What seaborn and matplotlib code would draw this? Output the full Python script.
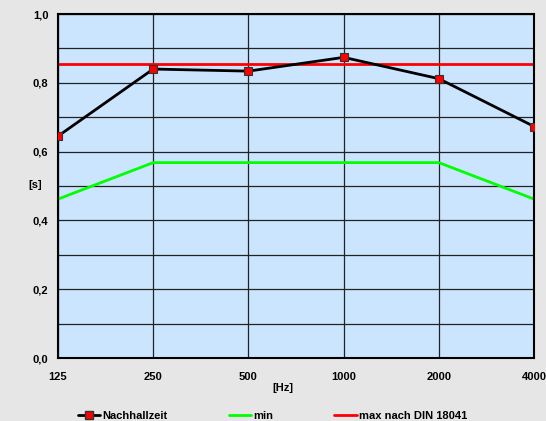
import pandas as pd
import matplotlib
matplotlib.use("Agg")
import matplotlib.pyplot as plt
import seaborn as sns
from matplotlib.lines import Line2D

freqs = ["125", "250", "500", "1000", "2000", "4000"]
nachhallzeit = [0.645, 0.840, 0.834, 0.874, 0.812, 0.673]
min_vals = [0.462, 0.568, 0.568, 0.568, 0.568, 0.462]
max_vals = [0.854, 0.854, 0.854, 0.854, 0.854, 0.854]

df = pd.DataFrame({"Hz": freqs, "Nachhallzeit": nachhallzeit,
                   "min": min_vals, "max": max_vals})

sns.set_style("white")
plt.rcParams["font.family"] = ["Liberation Sans", "DejaVu Sans"]
plt.rcParams["font.weight"] = "bold"
plt.rcParams["text.color"] = "black"
plt.rcParams["axes.labelcolor"] = "black"
plt.rcParams["xtick.color"] = "black"
plt.rcParams["ytick.color"] = "black"

fig = plt.figure(figsize=(5.46, 4.21), dpi=100, facecolor="#e6e6e6")
ax = fig.add_axes([0.1062, 0.1496, 0.872, 0.8171])
ax.set_facecolor("#cce5ff")

sns.lineplot(data=df, x="Hz", y="min", color="#00ff00", lw=2, ax=ax, sort=False)
sns.lineplot(data=df, x="Hz", y="max", color="#ff0000", lw=2, ax=ax, sort=False)
sns.lineplot(data=df, x="Hz", y="Nachhallzeit", color="black", lw=2, ax=ax, sort=False,
             marker="s", markersize=5.5, markerfacecolor="#ff0000",
             markeredgecolor="#333333", markeredgewidth=0.8, zorder=5)

ax.set_xlim(0, len(freqs) - 1)
ax.set_ylim(0, 1.0)
ax.set_yticks([i / 10 for i in range(11)])
ax.set_yticklabels([f"{i/10:.1f}".replace(".", ",") if i % 2 == 0 else "" for i in range(11)])
ax.grid(True, color="#222222", lw=0.9)
ax.tick_params(length=0, labelsize=8, pad=7)
for lab in ax.get_xticklabels() + ax.get_yticklabels():
    lab.set_fontweight("bold")
ax.tick_params(axis="x", pad=10)

for s in ax.spines.values():
    s.set_color("black")
    s.set_linewidth(1.5)

ax.set_xlabel("[Hz]", fontsize=8, fontweight="bold")
ax.set_ylabel("[s]", fontsize=8, fontweight="bold", rotation=0, va="center", ha="center")
ax.xaxis.set_label_coords(0.473, -0.073)
ax.yaxis.set_label_coords(-0.048, 0.503)

handles = [
    Line2D([], [], color="black", lw=2, marker="s", markersize=5.5,
           markerfacecolor="#ff0000", markeredgecolor="#333333"),
    Line2D([], [], color="#00ff00", lw=2),
    Line2D([], [], color="#ff0000", lw=2),
]
fig.legend(handles, ["Nachhallzeit", "min", "max nach DIN 18041"],
           loc="center", bbox_to_anchor=(0.499, 0.012), ncol=3,
           frameon=False, handlelength=2.0, handletextpad=0.2,
           columnspacing=5.5, borderpad=0.1, prop={"weight": "bold", "size": 8})

fig.savefig("out.png", dpi=100, facecolor=fig.get_facecolor())
